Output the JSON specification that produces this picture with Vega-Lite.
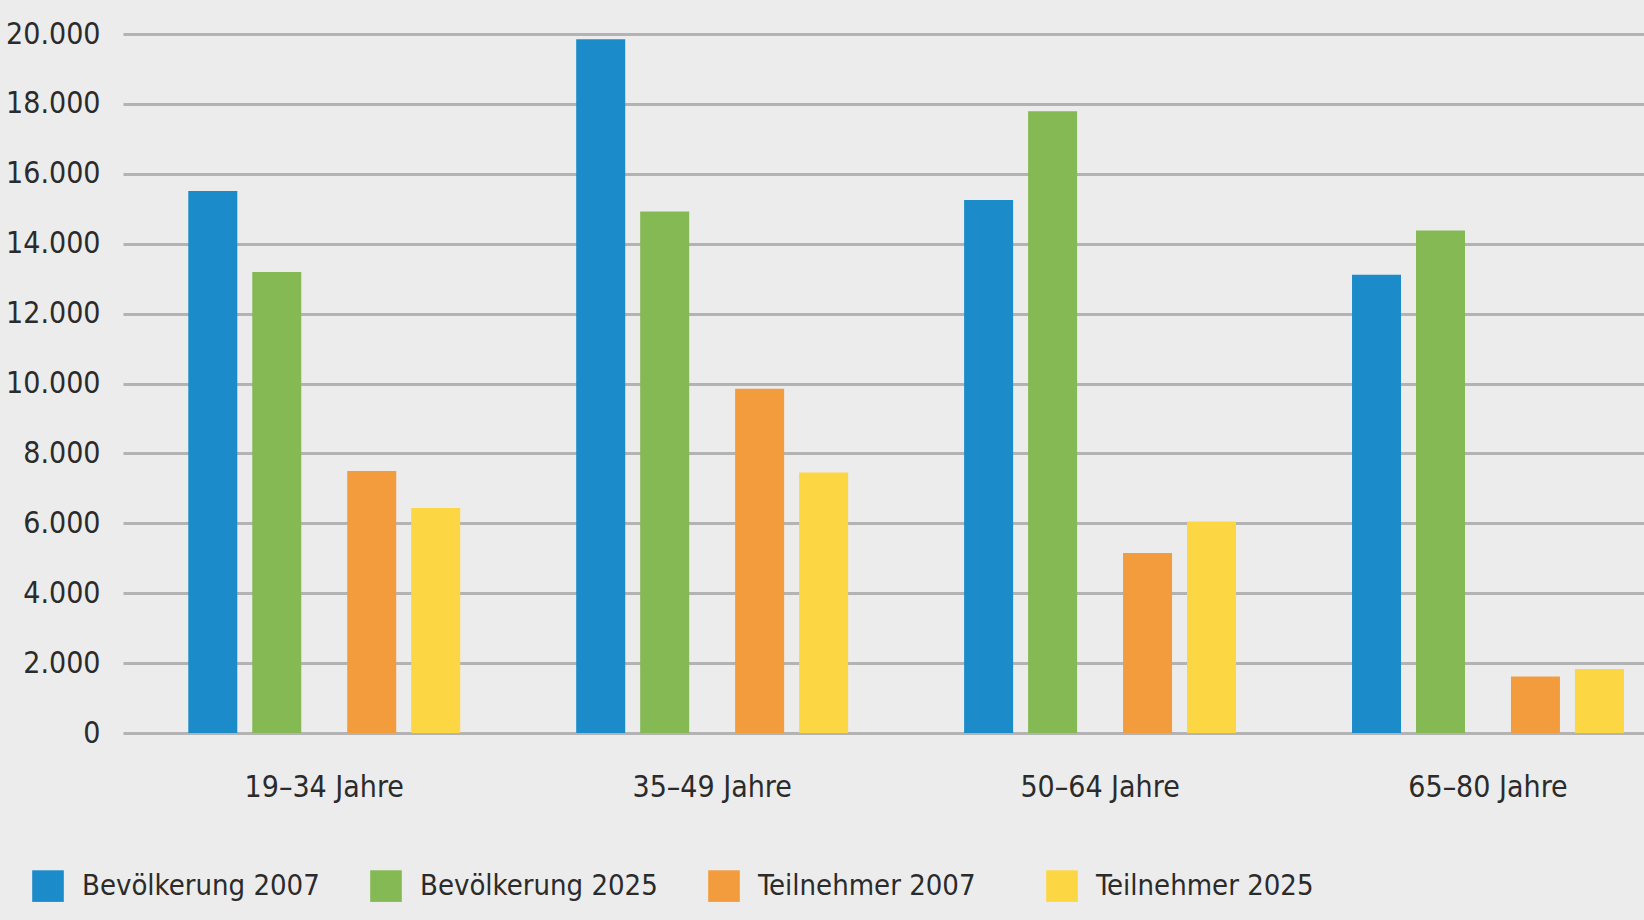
{
  "$schema": "https://vega.github.io/schema/vega-lite/v6.json",
  "width": 1521,
  "height": 699,
  "autosize": {"type": "none"},
  "padding": {"left": 123, "top": 34, "right": 0, "bottom": 187},
  "background": "#ececec",
  "config": {
    "view": {"stroke": null},
    "font": "DejaVu Sans Condensed, Roboto, sans-serif"
  },
  "data": {
    "values": [
      {"Alter": "19–34 Jahre", "Gruppe": "Bevölkerung", "Reihe": "Bevölkerung 2007", "Wert": 15510},
      {"Alter": "19–34 Jahre", "Gruppe": "Bevölkerung", "Reihe": "Bevölkerung 2025", "Wert": 13190},
      {"Alter": "19–34 Jahre", "Gruppe": "Teilnehmer", "Reihe": "Teilnehmer 2007", "Wert": 7500},
      {"Alter": "19–34 Jahre", "Gruppe": "Teilnehmer", "Reihe": "Teilnehmer 2025", "Wert": 6440},
      {"Alter": "35–49 Jahre", "Gruppe": "Bevölkerung", "Reihe": "Bevölkerung 2007", "Wert": 19850},
      {"Alter": "35–49 Jahre", "Gruppe": "Bevölkerung", "Reihe": "Bevölkerung 2025", "Wert": 14920},
      {"Alter": "35–49 Jahre", "Gruppe": "Teilnehmer", "Reihe": "Teilnehmer 2007", "Wert": 9850},
      {"Alter": "35–49 Jahre", "Gruppe": "Teilnehmer", "Reihe": "Teilnehmer 2025", "Wert": 7450},
      {"Alter": "50–64 Jahre", "Gruppe": "Bevölkerung", "Reihe": "Bevölkerung 2007", "Wert": 15250},
      {"Alter": "50–64 Jahre", "Gruppe": "Bevölkerung", "Reihe": "Bevölkerung 2025", "Wert": 17790},
      {"Alter": "50–64 Jahre", "Gruppe": "Teilnehmer", "Reihe": "Teilnehmer 2007", "Wert": 5150},
      {"Alter": "50–64 Jahre", "Gruppe": "Teilnehmer", "Reihe": "Teilnehmer 2025", "Wert": 6050},
      {"Alter": "65–80 Jahre", "Gruppe": "Bevölkerung", "Reihe": "Bevölkerung 2007", "Wert": 13110},
      {"Alter": "65–80 Jahre", "Gruppe": "Bevölkerung", "Reihe": "Bevölkerung 2025", "Wert": 14380},
      {"Alter": "65–80 Jahre", "Gruppe": "Teilnehmer", "Reihe": "Teilnehmer 2007", "Wert": 1620},
      {"Alter": "65–80 Jahre", "Gruppe": "Teilnehmer", "Reihe": "Teilnehmer 2025", "Wert": 1830}
    ]
  },
  "encoding": {
    "x": {
      "field": "Alter",
      "type": "nominal",
      "sort": null,
      "scale": {"paddingInner": 0.299, "paddingOuter": 0.11, "align": 0.765},
      "axis": {
        "title": null,
        "domain": false,
        "ticks": false,
        "tickSize": 0,
        "labelAngle": 0,
        "labelFontSize": 30,
        "labelColor": "#2b2b2b",
        "labelPadding": 39,
        "labelBaseline": "top",
        "grid": false
      }
    },
    "y": {
      "field": "Wert",
      "type": "quantitative",
      "scale": {"domain": [0, 20000], "nice": false},
      "axis": {
        "title": null,
        "domain": false,
        "ticks": false,
        "tickSize": 0,
        "values": [0, 2000, 4000, 6000, 8000, 10000, 12000, 14000, 16000, 18000, 20000],
        "labelExpr": "replace(format(datum.value, ',d'), ',', '.')",
        "labelFontSize": 30,
        "labelColor": "#2b2b2b",
        "labelPadding": 23,
        "labelBaseline": "middle",
        "grid": true,
        "gridColor": "#b3b3b3",
        "gridWidth": 3,
        "gridOpacity": 1
      }
    },
    "color": {
      "field": "Reihe",
      "type": "nominal",
      "scale": {
        "domain": ["Bevölkerung 2007", "Bevölkerung 2025", "Teilnehmer 2007", "Teilnehmer 2025"],
        "range": ["#1b8cc9", "#84b954", "#f39c3e", "#fdd644"]
      },
      "legend": {
        "title": null,
        "orient": "none",
        "legendX": -91,
        "legendY": 836,
        "direction": "horizontal",
        "columns": 4,
        "gridAlign": "all",
        "columnPadding": 50,
        "symbolType": "square",
        "symbolSize": 1000,
        "symbolStrokeWidth": 0,
        "symbolOpacity": 1,
        "labelFontSize": 29,
        "labelColor": "#2b2b2b",
        "labelOffset": 18,
        "labelLimit": 400
      }
    }
  },
  "layer": [
    {
      "transform": [{"filter": "datum.Gruppe === 'Bevölkerung'"}],
      "mark": {"type": "bar"},
      "encoding": {
        "xOffset": {
          "field": "Reihe",
          "type": "nominal",
          "scale": {
            "domain": ["Bevölkerung 2007", "Bevölkerung 2025", " ", "  "],
            "paddingInner": 0.234,
            "paddingOuter": 0.242,
            "align": 0
          }
        }
      }
    },
    {
      "transform": [{"filter": "datum.Gruppe === 'Teilnehmer'"}],
      "mark": {"type": "bar"},
      "encoding": {
        "xOffset": {
          "field": "Reihe",
          "type": "nominal",
          "scale": {
            "domain": [" ", "  ", "Teilnehmer 2007", "Teilnehmer 2025"],
            "paddingInner": 0.234,
            "paddingOuter": 0.242,
            "align": 1
          }
        }
      }
    }
  ],
  "resolve": {"scale": {"xOffset": "independent"}}
}
